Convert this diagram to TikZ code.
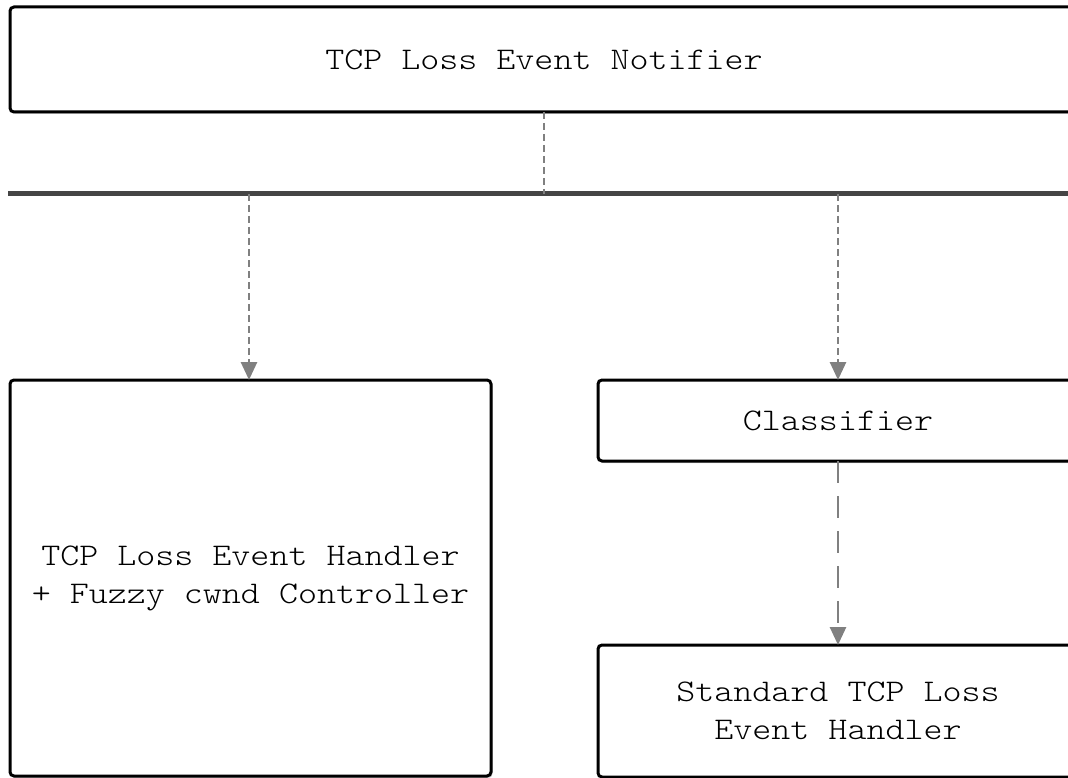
\documentclass[tikz,border=0pt]{standalone}
\usepackage{fontspec}
\newfontfamily\courfont{lmmonolt10-regular.otf}[FakeStretch=1.15]
\usetikzlibrary{arrows.meta,shadows,positioning}
\begin{document}
\begin{tikzpicture}[x=1pt,y=-1pt,
  box/.style={draw=black, line width=3pt, rounded corners=4pt, fill=white,
    anchor=north west, inner sep=0pt, outer sep=0pt, align=center,
    font=\courfont\fontsize{31.5}{38}\selectfont,
    drop shadow={shadow xshift=1.5pt, shadow yshift=-2pt, opacity=0.35, fill=gray}},
  shortdash/.style={draw=black!50, line width=2.7pt, dash pattern=on 7pt off 4pt},
  longdash/.style={draw=black!50, line width=2.7pt, dash pattern=on 22pt off 13pt},
  tip/.style={-{Triangle[width=16pt,length=18pt,fill=black!50]}},
  bus/.style={draw=black!73, line width=5pt}
]
\useasboundingbox (0,0) rectangle (1068,778);
\clip (0,0) rectangle (1068,778);
\node[box, minimum width=1068pt, minimum height=105pt] (notifier) at (10,7) {TCP Loss Event Notifier};
\node[box, minimum width=481pt, minimum height=396pt] (handler) at (10,380) {TCP Loss Event Handler\\+ Fuzzy cwnd Controller};
\node[box, minimum width=480pt, minimum height=81pt] (classifier) at (598,380) {Classifier};
\node[box, minimum width=480pt, minimum height=132pt] (standard) at (598,645) {Standard TCP Loss\\Event Handler};
\coordinate (busL) at (8,194);
\coordinate (busR) at (1075,194);
\coordinate (busA) at (249,194);
\coordinate (busB) at (838,194);
\coordinate (busM) at (544,194);
\draw[bus] (busL) -- (busR);
\draw[shortdash] (notifier.south) -- (busM);
\draw[shortdash, tip] (busA) -- (handler.north -| busA);
\draw[shortdash, tip] (busB) -- (classifier.north -| busB);
\draw[longdash, tip] (classifier.south -| busB) -- (standard.north -| busB);
\end{tikzpicture}
\end{document}
